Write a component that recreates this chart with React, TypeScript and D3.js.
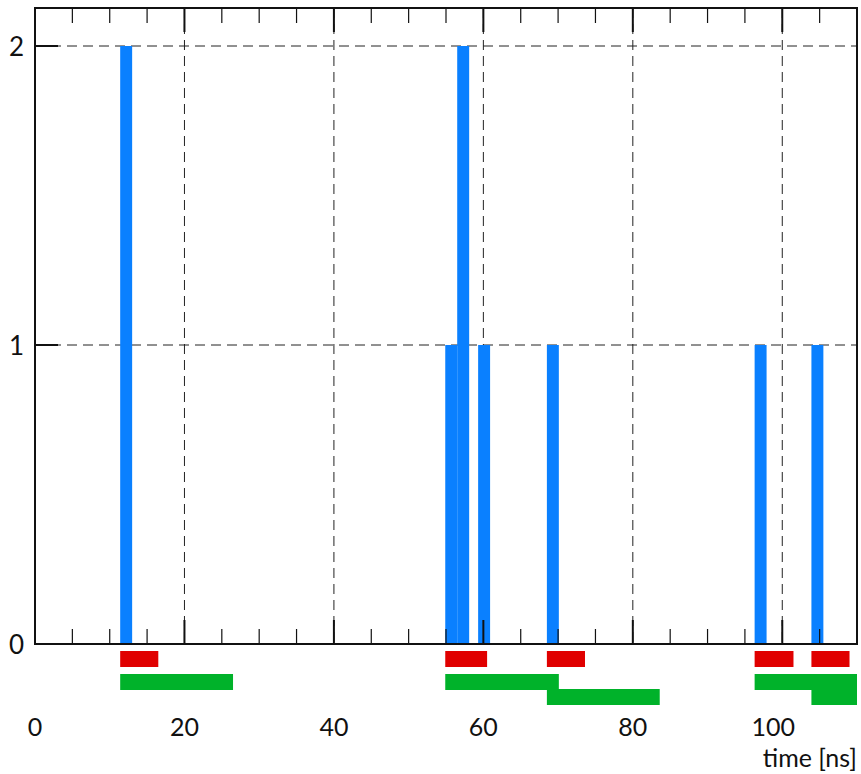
import React from "react";
import * as d3 from "d3";

// ---- data ----
const hitTimes = [11.4, 54.9, 56.5, 59.3, 68.5, 96.3, 103.9];
const hitCounts = [2, 1, 2, 1, 1, 1, 1];
const binWidth = 1.6;

const redStarts = [11.4, 54.9, 68.5, 96.3, 103.9];
const redEnds = [16.5, 60.5, 73.6, 101.5, 109.0];

const greenStarts = [11.4, 54.9, 68.5, 96.3, 103.9];
const greenEnds = [26.5, 70.1, 83.6, 111.4, 119.0];
const greenRows = [0, 0, 1, 0, 1];

const xMajorTicks = [0, 20, 40, 60, 80, 100];
const xMinorTicks = [5, 10, 15, 25, 30, 35, 45, 50, 55, 65, 70, 75, 85, 90, 95, 105];
const yTicks = [0, 1, 2];
const xAxisTitle = "time [ns]";

const W = 861;
const H = 774;

export default function App() {
  const x = d3.scaleLinear().domain([0, 110]).range([35, 857]);
  const y = d3.scaleLinear().domain([0, 2]).range([644, 46]);
  const yTop = 8;
  const yBot = y(0);
  const xL = x(0);
  const xR = x(110);
  const font = "Lato, 'Open Sans', sans-serif";
  const dash = "10,6";

  return (
    <svg
      width={W}
      height={H}
      style={{ position: "absolute", left: 0, top: 0, background: "#fff" }}
    >
      <defs>
        <clipPath id="plotclip">
          <rect x={xL} y={0} width={xR - xL} height={H} />
        </clipPath>
      </defs>
      <rect x={0} y={0} width={W} height={H} fill="#fff" />

      {/* vertical dashed grid */}
      {xMajorTicks.filter((v) => v > 0).map((v) => (
        <line
          key={"vg" + v}
          x1={x(v)}
          x2={x(v)}
          y1={yTop}
          y2={yBot}
          stroke="#222"
          strokeWidth={1}
          strokeDasharray={dash}
        />
      ))}
      {/* horizontal dashed grid */}
      {yTicks.filter((v) => v > 0).map((v) => (
        <line
          key={"hg" + v}
          x1={xL}
          x2={xR}
          y1={y(v)}
          y2={y(v)}
          stroke="#222"
          strokeWidth={1}
          strokeDasharray={dash}
        />
      ))}

      {/* histogram bars */}
      {hitTimes.map((t, i) => (
        <rect
          key={"b" + i}
          x={x(t)}
          y={y(hitCounts[i])}
          width={x(t + binWidth) - x(t)}
          height={yBot - y(hitCounts[i])}
          fill="#0a80ff"
        />
      ))}

      {/* ticks bottom/top */}
      {xMinorTicks.map((v) => (
        <g key={"mt" + v} stroke="#111" strokeWidth={1.2}>
          <line x1={x(v)} x2={x(v)} y1={yBot} y2={yBot - 15} />
          <line x1={x(v)} x2={x(v)} y1={yTop} y2={yTop + 15} />
        </g>
      ))}
      {xMajorTicks.filter((v) => v > 0).map((v) => (
        <g key={"Mt" + v} stroke="#111" strokeWidth={2}>
          <line x1={x(v)} x2={x(v)} y1={yBot} y2={yBot - 24} />
          <line x1={x(v)} x2={x(v)} y1={yTop} y2={yTop + 24} />
        </g>
      ))}
      {yTicks.filter((v) => v > 0).map((v) => (
        <line
          key={"yt" + v}
          x1={xL}
          x2={xL + 23}
          y1={y(v)}
          y2={y(v)}
          stroke="#111"
          strokeWidth={2}
        />
      ))}

      {/* frame */}
      <rect
        x={xL}
        y={yTop}
        width={xR - xL}
        height={yBot - yTop}
        fill="none"
        stroke="#111"
        strokeWidth={2}
      />

      {/* windows */}
      <g clipPath="url(#plotclip)">
        {redStarts.map((s, i) => (
          <rect
            key={"r" + i}
            x={x(s)}
            y={651}
            width={x(redEnds[i]) - x(s)}
            height={16}
            fill="#e00000"
          />
        ))}
        {greenStarts.map((s, i) => (
          <rect
            key={"g" + i}
            x={x(s)}
            y={674 + greenRows[i] * 15}
            width={x(greenEnds[i]) - x(s)}
            height={16}
            fill="#00b22a"
          />
        ))}
      </g>

      {/* y labels */}
      {yTicks.map((v) => (
        <text
          key={"yl" + v}
          x={24}
          y={y(v) + 9.5}
          textAnchor="end"
          fontFamily={font}
          fontSize={26}
          fill="#111"
        >
          {v}
        </text>
      ))}
      {/* x labels */}
      {xMajorTicks.map((v, i) => (
        <text
          key={"xl" + v}
          x={x(v) + (i === xMajorTicks.length - 1 ? -9 : 0)}
          y={736}
          textAnchor="middle"
          fontFamily={font}
          fontSize={25}
          fill="#111"
        >
          {v}
        </text>
      ))}
      <text
        x={857}
        y={767}
        textAnchor="end"
        fontFamily={font}
        fontSize={25}
        fill="#111"
      >
        {xAxisTitle}
      </text>
    </svg>
  );
}
